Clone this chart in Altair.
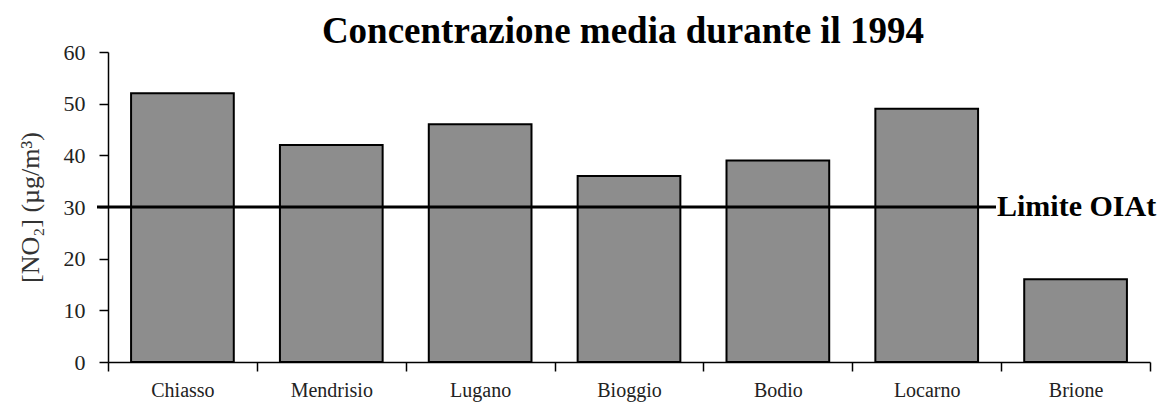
import altair as alt
import pandas as pd

stations = ["Chiasso", "Mendrisio", "Lugano", "Bioggio", "Bodio", "Locarno", "Brione"]
no2 = [52, 42, 46, 36, 39, 49, 16]
limit_value = 30
limit_label = "Limite OIAt"
title_text = "Concentrazione media durante il 1994"
y_title = "[NO₂] (µg/m³)"

df = pd.DataFrame({"station": stations, "no2": no2})
lim = pd.DataFrame({"y": [limit_value], "label": [limit_label]})
ttl = pd.DataFrame({"t": [title_text]})

serif = "Liberation Serif"

x_enc = alt.X("station:N", sort=stations, title=None,
              scale=alt.Scale(paddingInner=0, paddingOuter=0),
              axis=alt.Axis(labelAngle=0, labelFont=serif, labelFontSize=20,
                            labelColor="#222", labelPadding=9, tickBand="extent",
                            tickSize=9, tickColor="black", domainColor="black",
                            tickWidth=1.5, domainWidth=1.5))
y_enc = alt.Y("no2:Q", title=y_title,
              scale=alt.Scale(domain=[0, 60], nice=False),
              axis=alt.Axis(values=[0, 10, 20, 30, 40, 50, 60], grid=False,
                            labelFont=serif, labelFontSize=22, labelColor="#222",
                            labelPadding=14, tickSize=9, tickColor="black",
                            domainColor="black", tickWidth=1.5, domainWidth=1.5,
                            titleFont=serif, titleFontSize=26, titleFontWeight="normal",
                            titleColor="#333", titlePadding=20))

bars = alt.Chart(df).mark_bar(color="#8d8d8d", stroke="black", strokeWidth=2,
                              width=alt.RelativeBandSize(0.69)).encode(x=x_enc, y=y_enc)

rule = alt.Chart(lim).mark_rule(color="black", strokeWidth=3).encode(
    y=alt.Y("y:Q"), x=alt.value(-11), x2=alt.value(888))

label = alt.Chart(lim).mark_text(align="left", baseline="middle", font=serif,
                                 fontSize=30, fontWeight="bold", color="black").encode(
    y=alt.Y("y:Q"), x=alt.value(889), text="label:N")

title = alt.Chart(ttl).mark_text(align="center", baseline="alphabetic", font=serif,
                                 fontSize=37, fontWeight="bold", color="black").encode(
    x=alt.value(515), y=alt.value(-9), text="t:N")

chart = alt.layer(bars, rule, label, title).properties(
    width=1042, height=310,
    autosize=alt.AutoSizeParams(type="none"),
    padding={"left": 100, "top": 44, "right": 10, "bottom": 40},
).configure(background="white").configure_view(stroke=None)

chart.save("out.html", embed_options={"renderer": "svg", "actions": False})
